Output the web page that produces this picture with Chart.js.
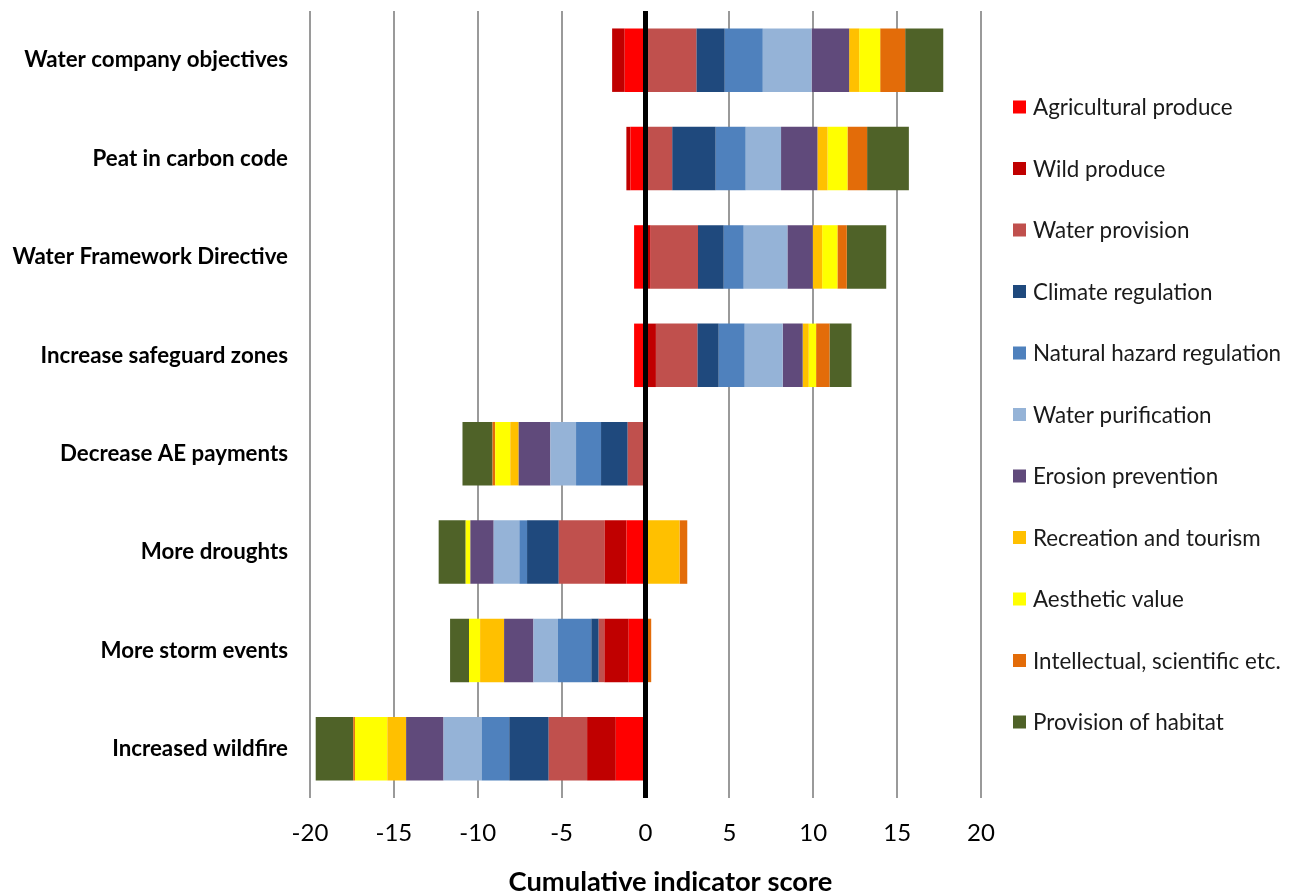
<!DOCTYPE html>
<html>
<head>
<meta charset="utf-8">
<title>Cumulative indicator score</title>
<script src="https://cdn.jsdelivr.net/npm/chart.js@4/dist/chart.umd.min.js"></script>
<style>
  html, body { margin: 0; padding: 0; background: #ffffff; }
  #wrap { width: 1294px; height: 895px; position: relative; }
</style>
</head>
<body>
<div id="wrap"><canvas id="chart"></canvas></div>
<script>
// Policy / scenario categories, top to bottom
const categories = [
  'Water company objectives',
  'Peat in carbon code',
  'Water Framework Directive',
  'Increase safeguard zones',
  'Decrease AE payments',
  'More droughts',
  'More storm events',
  'Increased wildfire'
];

// Indicator scores per ecosystem service (one value per category)
const agriculturalProduce = [-1.24, -0.90, -0.68, -0.68, 0, -1.13, -1.00, -1.77];
const wildProduce         = [-0.75, -0.24, 0.30, 0.62, 0, -1.31, -1.45, -1.71];
const waterProvision      = [3.03, 1.59, 2.83, 2.47, -1.06, -2.73, -0.34, -2.29];
const climateRegulation   = [1.69, 2.59, 1.53, 1.27, -1.59, -1.89, -0.44, -2.35];
const hazardRegulation    = [2.27, 1.79, 1.19, 1.55, -1.49, -0.46, -1.99, -1.65];
const waterPurification   = [2.91, 2.11, 2.61, 2.27, -1.53, -1.53, -1.46, -2.27];
const erosionPrevention   = [2.24, 2.17, 1.51, 1.19, -1.89, -1.39, -1.75, -2.23];
const recreationTourism   = [0.60, 0.60, 0.56, 0.36, -0.50, 2.03, -1.43, -1.12];
const aestheticValue      = [1.25, 1.19, 0.91, 0.44, -0.90, -0.28, -0.66, -1.93];
const intellectualValue   = [1.49, 1.17, 0.56, 0.80, -0.16, 0.46, 0.34, -0.10];
const habitatProvision    = [2.27, 2.49, 2.35, 1.31, -1.79, -1.61, -1.13, -2.24];

// X axis range and step
const xMin = -20;
const xMax = 20;
const xStep = 5;
const xTitle = 'Cumulative indicator score';

const seriesNames = [
  'Agricultural produce',
  'Wild produce',
  'Water provision',
  'Climate regulation',
  'Natural hazard regulation',
  'Water purification',
  'Erosion prevention',
  'Recreation and tourism',
  'Aesthetic value',
  'Intellectual, scientific etc.',
  'Provision of habitat'
];
const seriesValues = [
  agriculturalProduce, wildProduce, waterProvision, climateRegulation,
  hazardRegulation, waterPurification, erosionPrevention, recreationTourism,
  aestheticValue, intellectualValue, habitatProvision
];
const seriesColors = [
  '#FF0000', '#C00000', '#C0504D', '#1F497D', '#4F81BD', '#95B3D7',
  '#604A7B', '#FFC000', '#FFFF00', '#E36C09', '#4F6228'
];

const FONT = 'Lato, "Open Sans", sans-serif';

// Legend drawn as a single column to the right of the plot
const sideLegend = {
  id: 'sideLegend',
  afterDraw(chart, args, opts) {
    const ctx = chart.ctx;
    ctx.save();
    ctx.font = opts.font;
    ctx.textBaseline = 'middle';
    ctx.textAlign = 'left';
    chart.data.datasets.forEach((ds, i) => {
      const y = opts.top + i * opts.spacing;
      ctx.fillStyle = ds.backgroundColor;
      ctx.fillRect(opts.left, y - opts.box / 2, opts.box, opts.box);
      ctx.fillStyle = opts.color;
      ctx.fillText(ds.label, opts.left + opts.box + opts.gap, y + 1);
    });
    ctx.restore();
  }
};

// Axis title under the tick labels, centred slightly right of the plot centre
const axisTitle = {
  id: 'axisTitle',
  afterDraw(chart, args, opts) {
    const ctx = chart.ctx;
    ctx.save();
    ctx.font = opts.font;
    ctx.fillStyle = opts.color;
    ctx.textAlign = 'center';
    ctx.textBaseline = 'middle';
    const xs = chart.scales.x;
    ctx.fillText(opts.text, (xs.left + xs.right) / 2 + opts.shift, opts.y);
    ctx.restore();
  }
};

new Chart(document.getElementById('chart'), {
  type: 'bar',
  data: {
    labels: categories,
    datasets: seriesNames.map((name, i) => ({
      label: name,
      data: seriesValues[i],
      backgroundColor: seriesColors[i],
      borderWidth: 0,
      barPercentage: 0.645,
      categoryPercentage: 1.0
    }))
  },
  options: {
    indexAxis: 'y',
    responsive: true,
    maintainAspectRatio: false,
    animation: false,
    layout: { padding: { top: 11, right: 313, bottom: 0, left: 0 } },
    plugins: {
      legend: { display: false },
      tooltip: { enabled: false },
      sideLegend: {
        left: 1013, top: 107, spacing: 61.5, box: 13, gap: 7,
        font: '22.4px ' + FONT, color: '#1a1a1a'
      },
      axisTitle: {
        text: xTitle, y: 882, shift: 25,
        font: 'bold 27.3px ' + FONT, color: '#000000'
      }
    },
    scales: {
      x: {
        stacked: true,
        min: xMin,
        max: xMax,
        ticks: {
          stepSize: xStep,
          color: '#000000',
          padding: 21,
          font: { family: FONT, size: 24 }
        },
        grid: {
          drawTicks: false,
          color: (c) => c.tick && c.tick.value === 0 ? '#000000' : '#9a9a9a',
          lineWidth: (c) => c.tick && c.tick.value === 0 ? 5 : 2
        },
        border: { display: false },
        afterFit(scale) {
          scale.height = 97;
          scale.paddingLeft = 0;
          scale.paddingRight = 0;
        }
      },
      y: {
        stacked: true,
        grid: { display: false, drawTicks: false },
        border: { display: false },
        ticks: {
          color: '#000000',
          padding: 22,
          font: { family: FONT, size: 22.3, weight: 'bold' }
        },
        afterFit(scale) {
          scale.width = 310;
          scale.paddingTop = 0;
          scale.paddingBottom = 0;
        }
      }
    }
  },
  plugins: [sideLegend, axisTitle]
});
</script>
</body>
</html>
